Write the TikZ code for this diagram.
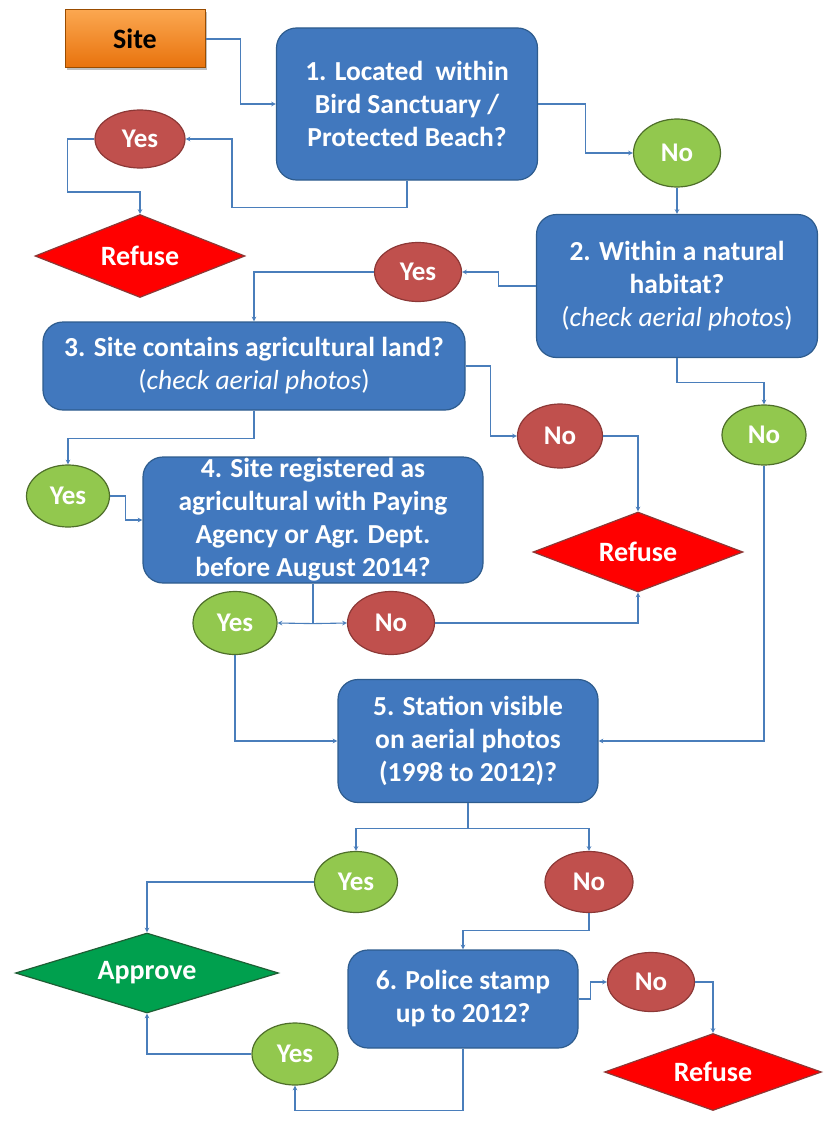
\documentclass[tikz,border=0pt]{standalone}
\usepackage{fontspec}
\setmainfont{Carlito}
\usetikzlibrary{positioning,shapes.geometric,shadows}
\definecolor{qblue}{HTML}{4178BE}
\definecolor{qblueline}{HTML}{2E5C8E}
\definecolor{qred}{HTML}{C0504D}
\definecolor{qredline}{HTML}{8C3836}
\definecolor{qgreen}{HTML}{92C84E}
\definecolor{qgreenline}{HTML}{4E6E2A}
\definecolor{qapprove}{HTML}{00A04E}
\definecolor{qapproveline}{HTML}{1E5E34}
\definecolor{qlink}{HTML}{4A7EBB}
\definecolor{qorangetop}{HTML}{FBA750}
\definecolor{qorangebot}{HTML}{E8720C}
\tikzstyle{arrow} = [qlink,line width=1.1pt,->,>=stealth]
\tikzstyle{link} = [qlink,line width=1.1pt]
\tikzstyle{question} = [draw=qblueline, line width=1.2pt, fill=qblue, rounded corners=20pt, text=white, align=center, font=\fontsize{27.5}{33}\selectfont\bfseries, inner sep=0pt]
\tikzstyle{yes} = [ellipse, draw=qgreenline, line width=1.2pt, fill=qgreen, text=white, font=\fontsize{27}{30}\selectfont\bfseries, inner sep=0pt]
\tikzstyle{no} = [ellipse, draw=qredline, line width=1.2pt, fill=qred, text=white, font=\fontsize{27}{30}\selectfont\bfseries, inner sep=0pt]
\tikzstyle{refuse} = [diamond, aspect=2.6, draw=qredline, line width=1.2pt, fill=red, text=white, font=\fontsize{28}{30}\selectfont\bfseries, inner sep=0pt]
\newcommand{\aerial}{{\mdseries(\textit{check aerial photos})}}

\begin{document}
\begin{tikzpicture}[x=1pt, y=-1pt]
    \useasboundingbox (0,0) rectangle (827,1124);

    \node (site) [draw=orange!60!black, line width=1pt, top color=qorangetop, bottom color=qorangebot, drop shadow, minimum width=140pt, minimum height=58pt, font=\fontsize{28}{30}\selectfont\bfseries] at (135,39) {Site};

    \node (q1) [question, minimum width=261pt, minimum height=152pt] at (407,104) {1. Located\ \ within\\Bird Sanctuary /\\Protected Beach?};
    \node (yes1) [no, minimum width=90pt, minimum height=58pt] at (140,139) {Yes};
    \node (refuse1) [refuse, minimum width=210pt, minimum height=83pt] at (140,256) {Refuse};
    \node (no1) [yes, minimum width=87pt, minimum height=68pt] at (677,153) {No};

    \node (q2) [question, minimum width=281pt, minimum height=143pt] at (677,286) {2. Within a natural\\habitat?\\\aerial};
    \node (yes2) [no, minimum width=87pt, minimum height=59pt] at (418,272) {Yes};
    \node (no2) [yes, minimum width=84pt, minimum height=60pt] at (764,435) {No};

    \node (q3) [question, minimum width=422pt, minimum height=88pt] at (254,366) {3. Site contains agricultural land?\\\aerial};
    \node (no3) [no, minimum width=85pt, minimum height=64pt] at (560,436) {No};
    \node (yes3) [yes, minimum width=83pt, minimum height=62pt] at (68,496) {Yes};
    \node (refuse2) [refuse, minimum width=210pt, minimum height=80pt] at (638,552) {Refuse};

    \node (q4) [question, minimum width=340pt, minimum height=126pt] at (313,520) {4. Site registered as\\agricultural with Paying\\Agency or Agr. Dept.\\before August 2014?};
    \node (yes4) [yes, minimum width=84pt, minimum height=63pt] at (235,623) {Yes};
    \node (no4) [no, minimum width=87pt, minimum height=63pt] at (391,623) {No};

    \node (q5) [question, minimum width=260pt, minimum height=123pt] at (468,741) {5. Station visible\\on aerial photos\\(1998 to 2012)?};
    \node (yes5) [yes, minimum width=83pt, minimum height=61pt] at (356,882) {Yes};
    \node (no5) [no, minimum width=88pt, minimum height=61pt] at (589,882) {No};
    \node (approve) [diamond, aspect=2.6, draw=qapproveline, line width=1.2pt, fill=qapprove, text=white, font=\fontsize{28}{30}\selectfont\bfseries, inner sep=0pt, minimum width=263pt, minimum height=80pt] at (147,973) {Approve};

    \node (q6) [question, minimum width=230pt, minimum height=98pt] at (463,999) {6. Police stamp\\up to 2012?};
    \node (no6) [no, minimum width=87pt, minimum height=59pt] at (651,982) {No};
    \node (yes6) [yes, minimum width=86pt, minimum height=62pt] at (295,1054) {Yes};
    \node (refuse3) [refuse, minimum width=217pt, minimum height=77pt] at (713,1072) {Refuse};

    \draw [arrow] (site.east) -- ++(35,0) |- (q1.west);
    \draw [arrow] (q1.south) -- ++(0,27) -- ++(-175,0) |- (yes1.east);
    \draw [arrow] (yes1.west) -- ++(-27,0) -- ++(0,53) -| (refuse1.north);
    \draw [arrow] (q1.east) -- ++(47,0) |- (no1.west);
    \draw [arrow] (no1.south) -- (q2.north);

    \draw [arrow] (q2.west) -- ++(-37,0) |- (yes2.east);
    \draw [arrow] (yes2.west) -| (q3.north);
    \draw [arrow] (q2.south) -- ++(0,24) -| (no2.north);

    \draw [arrow] (q3.east) -- ++(25,0) |- (no3.west);
    \draw [arrow] (no3.east) -| (refuse2.north);
    \draw [arrow] (q3.south) -- ++(0,28) -| (yes3.north);
    \draw [arrow] (yes3.east) -- ++(15,0) |- (q4.west);

    \draw [link] (q4.south) -- ++(0,40) coordinate (split4);
    \draw [arrow] (split4) -- (yes4.east);
    \draw [arrow] (split4) -- (no4.west);
    \draw [arrow] (no4.east) -| (refuse2.south);

    \draw [arrow] (yes4.south) |- (q5.west);
    \draw [arrow] (no2.south) |- (q5.east);
    \draw [arrow] (q5.south) -- ++(0,25) -| (yes5.north);
    \draw [arrow] (q5.south) -- ++(0,25) -| (no5.north);

    \draw [arrow] (yes5.west) -| (approve.north);
    \draw [arrow] (no5.south) -- ++(0,17) -| (q6.north);
    \draw [arrow] (q6.east) -- ++(12,0) |- (no6.west);
    \draw [arrow] (no6.east) -| (refuse3.north);
    \draw [arrow] (q6.south) -- ++(0,62) -| (yes6.south);
    \draw [arrow] (yes6.west) -| (approve.south);

  \end{tikzpicture}
\end{document}
